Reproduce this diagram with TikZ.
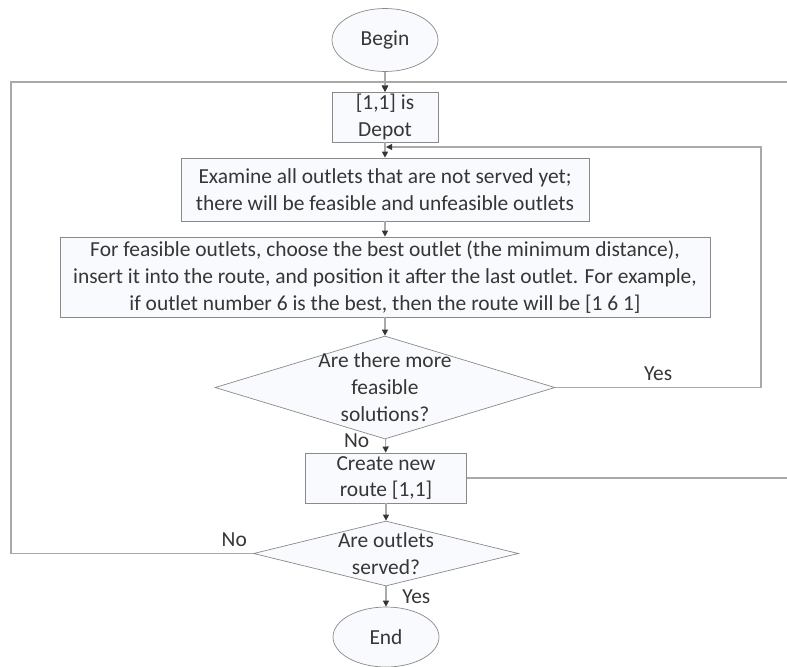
\documentclass[tikz,border=0pt]{standalone}
\usepackage{fontspec}
\setmainfont{Carlito}
\usetikzlibrary{shapes.geometric, arrows.meta, positioning}
\definecolor{ink}{HTML}{363636}
\definecolor{frame}{HTML}{8A8A8A}
\definecolor{wire}{HTML}{A9A9A9}
\definecolor{soft}{HTML}{F8FAFD}

\begin{document}
\begin{tikzpicture}[x=0.02cm,y=-0.02cm,
  every node/.style={font=\fontsize{12.2}{15.3}\selectfont, text=ink},
  term/.style={ellipse,draw=frame,fill=soft,minimum width=2.12cm,
               minimum height=1.26cm,inner sep=0},
  proc/.style={rectangle,draw=frame,fill=soft,align=center,inner sep=0},
  decide/.style={diamond,draw=frame,fill=soft,inner sep=0},
  flow/.style={draw=wire,line width=0.6pt,
               -{Triangle[length=3.5pt,width=3.5pt,color=ink]}},
  link/.style={draw=wire,line width=0.6pt}]
  \useasboundingbox (0,0) rectangle (787,666);

  \node[term] (begin) at (385,40) {Begin};
  \node[proc,minimum width=2.12cm,minimum height=1cm] (depot) at (385,117)
    {[1,1] is\\Depot};
  \node[proc,minimum width=8.16cm,minimum height=1.26cm] (exam) at (385,189.5)
    {Examine all outlets that are not served yet;\\there will be feasible and unfeasible outlets};
  \node[proc,minimum width=13cm,minimum height=1.6cm] (pick) at (385,277)
    {For feasible outlets, choose the best outlet (the minimum distance),\\
     insert it into the route, and position it after the last outlet. For example,\\
     if outlet number 6 is the best, then the route will be [1 6 1]};
  \node[decide,minimum width=6.8cm,minimum height=2.06cm,
        label={[align=center]center:Are there more\\feasible\\solutions?}] (more) at (385,387.5) {};
  \node[proc,minimum width=3.22cm,minimum height=1cm] (newroute) at (386,478)
    {Create new\\route [1,1]};
  \node[decide,minimum width=5.3cm,minimum height=1.3cm,
        label={[align=center]center:Are outlets\\served?}] (served) at (386,553.5) {};
  \node[term,minimum height=1.2cm] (end) at (386,637) {End};

  % loose ends of the connectors
  \coordinate (lcorner) at (11,82);
  \coordinate (topedge) at (787,82);
  \coordinate (yesturn) at (761,147);
  \coordinate (ymerge) at (386,147);
  \coordinate (midedge) at (787,478);

  \draw[flow] (begin) -- (depot);
  \draw[flow] (topedge) -| (depot.north);
  \draw[flow] (served.west) -| node[pos=0,above left] (noB) {No} (lcorner) -| (depot.north);
  \draw[flow] (depot) -- (exam);
  \draw[flow] (more.east) -| node[pos=0.25,above] (yesA) {Yes} (yesturn) -- (ymerge);
  \draw[flow] (exam) -- (pick);
  \draw[flow] (pick) -- (more);
  \draw[flow] (more) -- node[left,xshift=-0.2cm,yshift=0.1cm] (noA) {No} (newroute);
  \draw[flow] (newroute) -- (served);
  \draw[link] (newroute.east) -- (midedge);
  \draw[flow] (served) -- node[right,xshift=0.2cm] (yesB) {Yes} (end);
\end{tikzpicture}
\end{document}
